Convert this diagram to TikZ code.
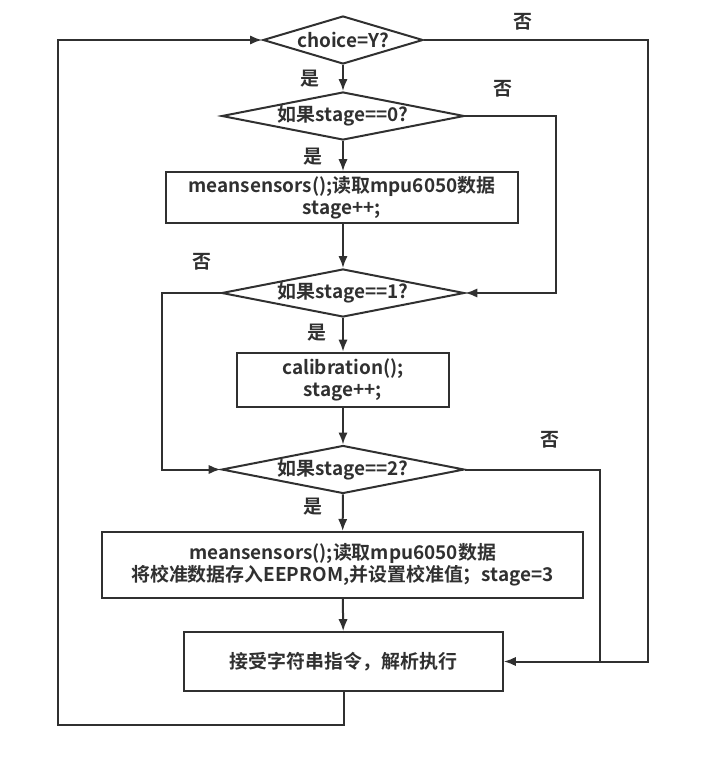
\documentclass[tikz,border=0pt]{standalone}
\usepackage{fontspec}
\setmainfont{Noto Sans CJK SC}[BoldFont={Noto Sans CJK SC Bold}]
\usepackage{tikz}
\usetikzlibrary{arrows.meta,shapes.geometric,positioning}
\definecolor{DarkLine}{HTML}{303030}

\tikzset{
  decide/.style={diamond, draw=DarkLine, line width=1.5pt, inner sep=0pt, aspect=5, minimum width=182pt, minimum height=36pt},
  process/.style={rectangle, draw=DarkLine, line width=1.5pt, align=center, inner sep=2pt},
  tag/.style={text=DarkLine, inner sep=0pt},
  flow/.style={->, DarkLine, line width=1.5pt},
}

\begin{document}
\begin{tikzpicture}[x=0.75pt, y=-0.75pt, >={Latex[length=9pt,width=7pt]}, font=\fontsize{14.2}{16.5}\selectfont\bfseries, text=DarkLine]
    \useasboundingbox (0,0) rectangle (704,757);

    \node [decide, aspect=3.3, minimum width=120pt] (choice) at (343,40) {choice=Y?};
    \node [decide] (st0) at (343,116) {如果stage==0?};
    \node [process, minimum width=264pt, minimum height=38pt] (mean) at (342,197.5) {meansensors();读取mpu6050数据\\stage++;};
    \node [decide] (st1) at (343,293) {如果stage==1?};
    \node [process, minimum width=159pt, minimum height=41pt] (cal) at (343,380) {calibration();\\stage++;};
    \node [decide] (st2) at (343,469.5) {如果stage==2?};
    \node [process, minimum width=361pt, minimum height=49.5pt] (save) at (342.5,565) {meansensors();读取mpu6050数据\\将校准数据存入EEPROM,并设置校准值；stage=3};
    \node [process, minimum width=239pt, minimum height=44pt] (exec) at (343.5,661.5) {接受字符串指令，解析执行};

    %% labels
    \node [tag] (no0) at (523,22) {否};
    \node [tag] (yes0) at (310,79) {是};
    \node [tag] (no1) at (503,89) {否};
    \node [tag] (yes1) at (313,157) {是};
    \node [tag] (no2) at (202,262) {否};
    \node [tag] (yes2) at (317,333) {是};
    \node [tag] (no3) at (550,440) {否};
    \node [tag] (yes3) at (313,507) {是};

    %% corners
    \coordinate (loopL) at (58,725);
    \coordinate (outR) at (648,661.5);
    \coordinate (skip0) at (556,293);
    \coordinate (skip1) at (162,469.5);
    \coordinate (skip2) at (600,661.5);

    %% Arrows
    \draw [flow] (choice) -- (st0);
    \draw [flow] (st0) -- (st0 |- mean.north);
    \draw [flow] (st1 |- mean.south) -- (st1);
    \draw [flow] (st1) -- (cal);
    \draw [flow] (cal) -- (st2);
    \draw [flow] (st2) -- (save);
    \draw [flow] (save) -- (exec);
    \draw [flow] (exec.south) |- (loopL) |- (choice.west);
    \draw [flow] (choice.east) -| (outR) -- (exec.east);
    \draw [flow] (st0.east) -| (skip0) -- (st1.east);
    \draw [flow] (st1.west) -| (skip1) -- (st2.west);
    \draw [DarkLine, line width=1.5pt] (st2.east) -| (skip2);
\end{tikzpicture}
\end{document}
